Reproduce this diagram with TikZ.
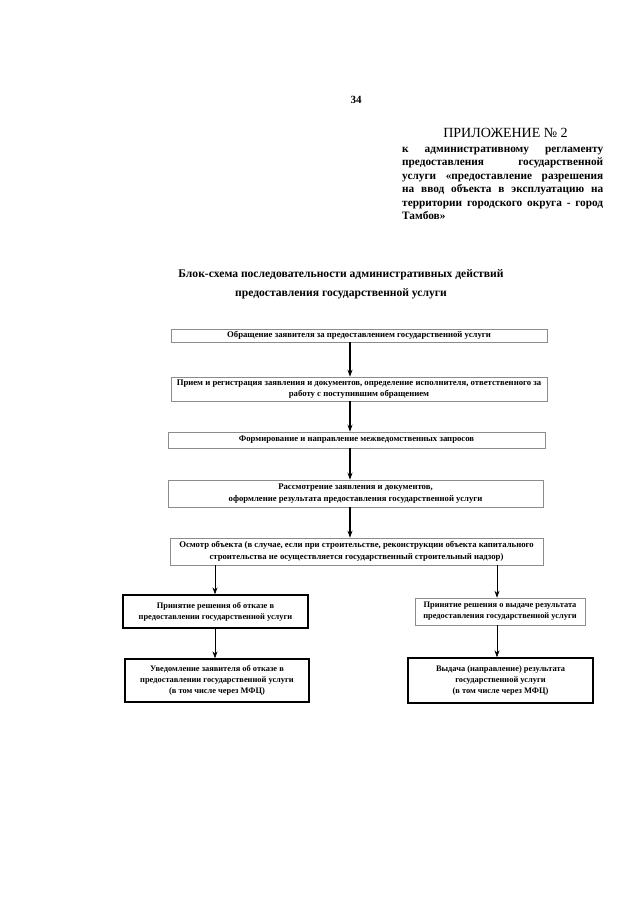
\documentclass[tikz,border=0pt]{standalone}
\usepackage{fontspec}
\setmainfont{Liberation Serif}
\usetikzlibrary{arrows.meta}
\begin{document}
\begin{tikzpicture}[x=1pt,y=-1pt,
  graybox/.style={draw=black!45,line width=0.6pt,inner sep=0pt,align=center,
    font=\fontsize{8.7}{11.5}\selectfont\bfseries},
  lowbox/.style={draw=black!45,line width=0.6pt,inner sep=0pt,align=center,
    font=\fontsize{8.4}{11}\selectfont\bfseries},
  blackbox/.style={draw=black,line width=1.3pt,inner sep=0pt,align=center,
    font=\fontsize{8.4}{10.8}\selectfont\bfseries},
  arr/.style={line width=1.2pt,-{Stealth[length=7pt,width=5pt]}},
  plain/.style={inner sep=0pt}]
\useasboundingbox (0,0) rectangle (639,905);
\fill[white] (0,0) rectangle (639,905);

% header
\node[plain,font=\fontsize{11}{13}\selectfont\bfseries] (pg) at (356,100) {34};
\node[plain,font=\fontsize{14}{15}\selectfont] (app) at (505.5,133) {ПРИЛОЖЕНИЕ № 2};
\node[plain,anchor=north west,font=\fontsize{11.3}{13.4}\selectfont\bfseries,align=left] (hdr) at (402,147) {%
\makebox[201pt][s]{к административному регламенту}\\
\makebox[201pt][s]{предоставления государственной}\\
\makebox[201pt][s]{услуги «предоставление разрешения}\\
\makebox[201pt][s]{на ввод объекта в эксплуатацию на}\\
\makebox[201pt][s]{территории городского округа - город}\\
Тамбов»};

% title
\node[plain,font=\fontsize{11.6}{19}\selectfont\bfseries,align=center] (title) at (341,284) {%
Блок-схема последовательности административных действий\\
предоставления государственной услуги};

\coordinate (ax) at (350,0);
\coordinate (lx) at (215,0);
\coordinate (rx) at (497,0);

\node[graybox,minimum width=376pt,minimum height=13pt] (b1) at (359,335.5)
  {Обращение заявителя за предоставлением государственной услуги};
\node[graybox,minimum width=376pt,minimum height=24pt] (b2) at (359,389)
  {Прием и регистрация заявления и документов, определение исполнителя, ответственного за\\
   работу с поступившим обращением};
\node[graybox,minimum width=377pt,minimum height=16pt] (b3) at (356.5,440)
  {Формирование и направление межведомственных запросов};
\node[graybox,minimum width=375pt,minimum height=27pt] (b4) at (355.5,493.5)
  {Рассмотрение заявления и документов,\\
   оформление результата предоставления государственной услуги};
\node[graybox,minimum width=373pt,minimum height=27pt] (b5) at (356.5,551.5)
  {Осмотр объекта (в случае, если при строительстве, реконструкции объекта капитального\\
   строительства не осуществляется государственный строительный надзор)};

\node[blackbox,minimum width=185pt,minimum height=33pt] (b6) at (215.5,611.5)
  {Принятие решения об отказе в\\ предоставлении государственной услуги};
\node[blackbox,minimum width=184pt,minimum height=43pt] (b8) at (217,680.5)
  {Уведомление заявителя об отказе в\\ предоставлении государственной услуги\\ (в том числе через МФЦ)};
\node[lowbox,minimum width=170pt,minimum height=27pt] (b7) at (500,611.5)
  {Принятие решения о выдаче результата\\ предоставления государственной услуги};
\node[blackbox,minimum width=185pt,minimum height=45pt] (b9) at (500.5,680.5)
  {Выдача (направление) результата\\ государственной услуги\\ (в том числе через МФЦ)};

\draw[arr] (b1.south -| ax) -- (b2.north -| ax);
\draw[arr] (b2.south -| ax) -- (b3.north -| ax);
\draw[arr] (b3.south -| ax) -- (b4.north -| ax);
\draw[arr] (b4.south -| ax) -- (b5.north -| ax);
\draw[arr,line width=0.8pt] (b5.south -| lx) -- (b6.north -| lx);
\draw[arr,line width=0.8pt] (b5.south -| rx) -- (b7.north -| rx);
\draw[arr,line width=0.8pt] (b6.south -| lx) -- (b8.north -| lx);
\draw[arr,line width=0.8pt] (b7.south -| rx) -- (b9.north -| rx);
\end{tikzpicture}
\end{document}
